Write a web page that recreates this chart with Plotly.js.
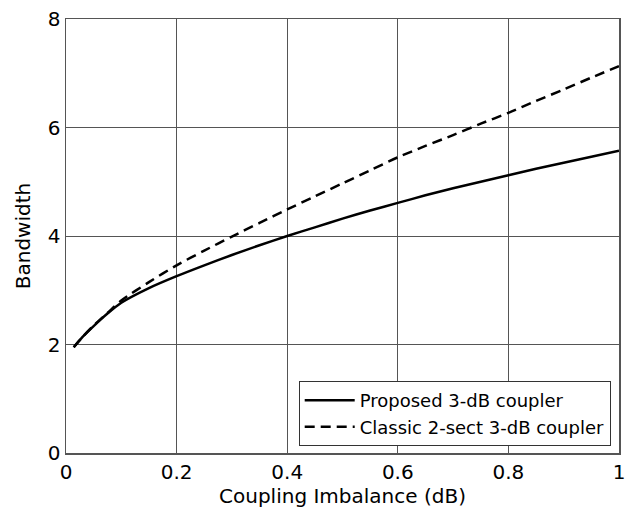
<!DOCTYPE html>
<html>
<head>
<meta charset="utf-8">
<script src="https://cdn.plot.ly/plotly-3.0.1.min.js"></script>
<style>html,body{margin:0;padding:0;background:#fff}#chart{width:632px;height:510px}</style>
</head>
<body>
<div id="chart"></div>
<script>
const imbalance = [0.014, 0.03, 0.05, 0.075, 0.1, 0.15, 0.2, 0.25, 0.3, 0.35, 0.4, 0.45, 0.5, 0.55, 0.6, 0.65, 0.7, 0.75, 0.8, 0.85, 0.9, 0.95, 1.0];
const proposed = [1.95, 2.14, 2.34, 2.57, 2.77, 3.04, 3.26, 3.46, 3.65, 3.83, 4.0, 4.16, 4.32, 4.47, 4.61, 4.75, 4.88, 5.0, 5.12, 5.24, 5.35, 5.46, 5.57];
const classic = [1.95, 2.14, 2.35, 2.58, 2.81, 3.15, 3.46, 3.73, 3.99, 4.24, 4.49, 4.73, 4.97, 5.21, 5.45, 5.66, 5.86, 6.07, 6.27, 6.49, 6.70, 6.92, 7.13];
const xTicks = [0, 0.2, 0.4, 0.6, 0.8, 1];
const xTickText = ['0', '0.2', '0.4', '0.6', '0.8', '1'];
const yTicks = [0, 2, 4, 6, 8];
const seriesNames = ['Proposed 3-dB coupler', 'Classic 2-sect 3-dB coupler'];

const fam = 'DejaVu Sans, sans-serif';
const font = {family: fam, size: 20, color: '#000'};

const traces = [
  {x: imbalance, y: proposed, name: seriesNames[0], mode: 'lines', line: {color: '#000', width: 2.5, shape: 'spline', smoothing: 0.8}},
  {x: imbalance, y: classic, name: seriesNames[1], mode: 'lines', line: {color: '#000', width: 2.5, dash: '10px,6px', shape: 'spline', smoothing: 0.8}}
];

const axisCommon = {
  showline: true, mirror: true, linecolor: '#555', linewidth: 1.5,
  showgrid: true, gridcolor: '#555', gridwidth: 1,
  zeroline: false, ticks: '', tickfont: font
};

const layout = {
  width: 632, height: 510,
  margin: {l: 66, r: 13, t: 19, b: 57},
  paper_bgcolor: '#fff', plot_bgcolor: '#fff',
  font: font,
  showlegend: true,
  legend: {
    x: 0.985, y: 0.016, xanchor: 'right', yanchor: 'bottom',
    bgcolor: '#fff', bordercolor: '#333', borderwidth: 1,
    font: {family: fam, size: 18, color: '#000'},
    itemwidth: 50, tracegroupgap: 0
  },
  xaxis: Object.assign({}, axisCommon, {
    range: [0, 1], tickvals: xTicks, ticktext: xTickText,
    title: {text: 'Coupling Imbalance (dB)', font: font, standoff: 2}
  }),
  yaxis: Object.assign({}, axisCommon, {
    range: [0, 8], tickvals: yTicks,
    title: {text: 'Bandwidth', font: font, standoff: 12}
  })
};

Plotly.newPlot('chart', traces, layout, {displayModeBar: false, staticPlot: true});
</script>
</body>
</html>
